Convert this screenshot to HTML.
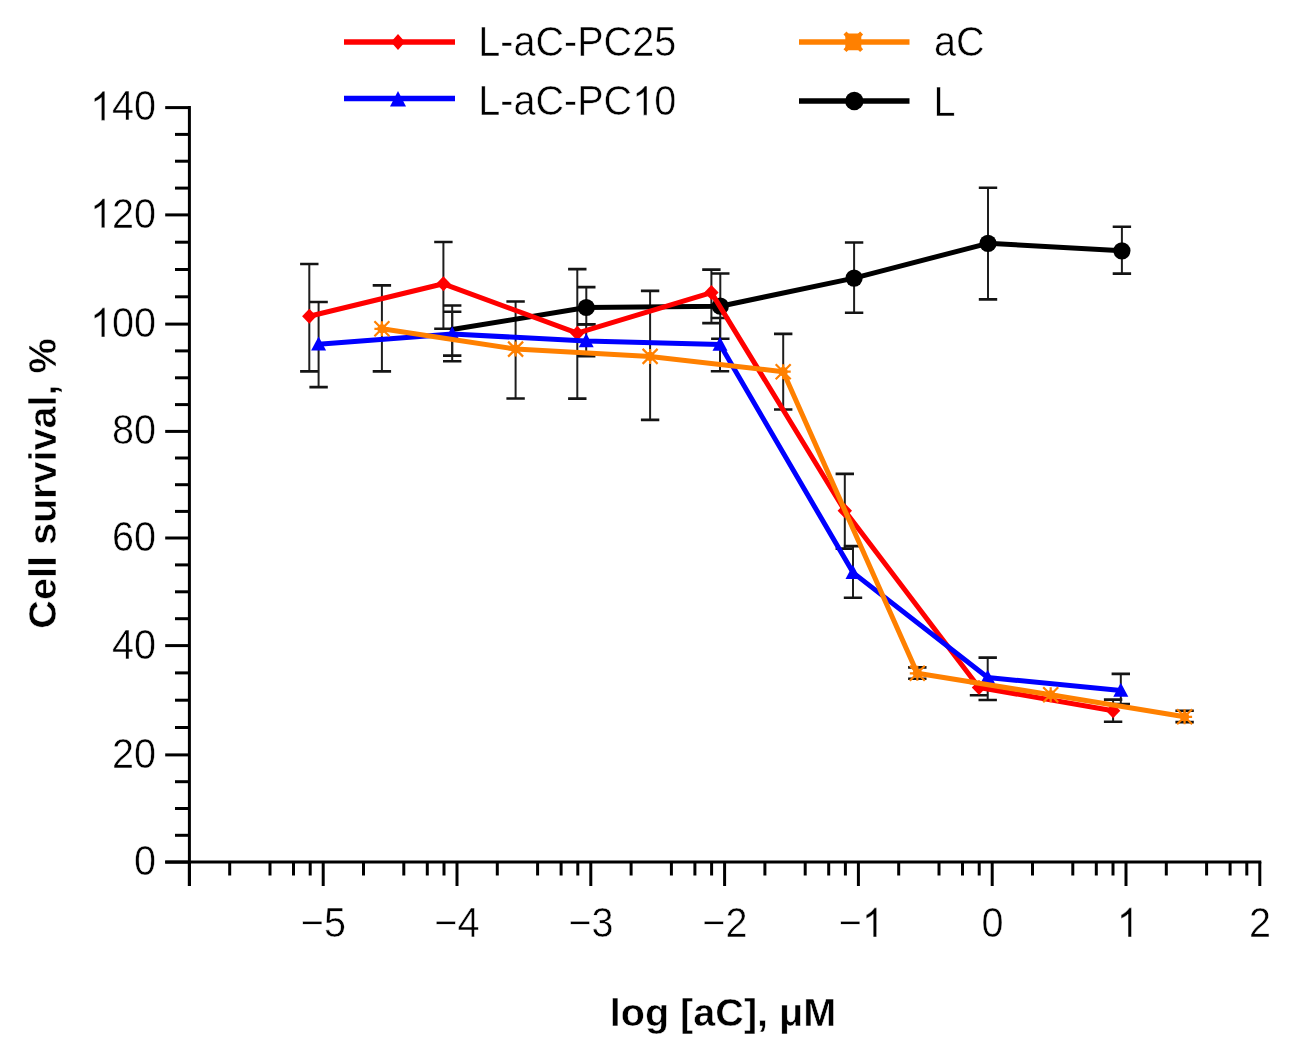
<!DOCTYPE html>
<html><head><meta charset="utf-8"><style>
html,body{margin:0;padding:0;background:#fff;}
svg{display:block;filter:blur(0.45px);}
</style></head><body>
<svg width="1306" height="1058" viewBox="0 0 1306 1058">
<rect width="1306" height="1058" fill="#fff"/>
<g stroke="#000" stroke-width="3" stroke-linecap="butt" fill="none">
<line x1="189.4" y1="106.1" x2="189.4" y2="886.0"/>
<line x1="165.20000000000002" y1="862.0" x2="1261.3000000000002" y2="862.0"/>
<line x1="165.20000000000002" y1="862.1" x2="189.4" y2="862.1"/>
<line x1="165.20000000000002" y1="754.9" x2="189.4" y2="754.9"/>
<line x1="165.20000000000002" y1="645.6" x2="189.4" y2="645.6"/>
<line x1="165.20000000000002" y1="538.0" x2="189.4" y2="538.0"/>
<line x1="165.20000000000002" y1="431.4" x2="189.4" y2="431.4"/>
<line x1="165.20000000000002" y1="324.1" x2="189.4" y2="324.1"/>
<line x1="165.20000000000002" y1="214.9" x2="189.4" y2="214.9"/>
<line x1="165.20000000000002" y1="107.6" x2="189.4" y2="107.6"/>
<line x1="175.0" y1="835.3" x2="189.4" y2="835.3"/>
<line x1="175.0" y1="808.5" x2="189.4" y2="808.5"/>
<line x1="175.0" y1="781.7" x2="189.4" y2="781.7"/>
<line x1="175.0" y1="727.5" x2="189.4" y2="727.5"/>
<line x1="175.0" y1="700.2" x2="189.4" y2="700.2"/>
<line x1="175.0" y1="672.9" x2="189.4" y2="672.9"/>
<line x1="175.0" y1="618.7" x2="189.4" y2="618.7"/>
<line x1="175.0" y1="591.8" x2="189.4" y2="591.8"/>
<line x1="175.0" y1="564.9" x2="189.4" y2="564.9"/>
<line x1="175.0" y1="511.4" x2="189.4" y2="511.4"/>
<line x1="175.0" y1="484.7" x2="189.4" y2="484.7"/>
<line x1="175.0" y1="458.0" x2="189.4" y2="458.0"/>
<line x1="175.0" y1="404.6" x2="189.4" y2="404.6"/>
<line x1="175.0" y1="377.8" x2="189.4" y2="377.8"/>
<line x1="175.0" y1="350.9" x2="189.4" y2="350.9"/>
<line x1="175.0" y1="296.8" x2="189.4" y2="296.8"/>
<line x1="175.0" y1="269.5" x2="189.4" y2="269.5"/>
<line x1="175.0" y1="242.2" x2="189.4" y2="242.2"/>
<line x1="175.0" y1="188.1" x2="189.4" y2="188.1"/>
<line x1="175.0" y1="161.2" x2="189.4" y2="161.2"/>
<line x1="175.0" y1="134.4" x2="189.4" y2="134.4"/>
<line x1="189.4" y1="862.0" x2="189.4" y2="886.0"/>
<line x1="229.7" y1="862.0" x2="229.7" y2="875.5"/>
<line x1="270.0" y1="862.0" x2="270.0" y2="875.5"/>
<line x1="293.5" y1="862.0" x2="293.5" y2="875.5"/>
<line x1="310.2" y1="862.0" x2="310.2" y2="875.5"/>
<line x1="323.2" y1="862.0" x2="323.2" y2="886.0"/>
<line x1="363.5" y1="862.0" x2="363.5" y2="875.5"/>
<line x1="403.8" y1="862.0" x2="403.8" y2="875.5"/>
<line x1="427.3" y1="862.0" x2="427.3" y2="875.5"/>
<line x1="444.0" y1="862.0" x2="444.0" y2="875.5"/>
<line x1="457.0" y1="862.0" x2="457.0" y2="886.0"/>
<line x1="497.3" y1="862.0" x2="497.3" y2="875.5"/>
<line x1="537.6" y1="862.0" x2="537.6" y2="875.5"/>
<line x1="561.1" y1="862.0" x2="561.1" y2="875.5"/>
<line x1="577.8" y1="862.0" x2="577.8" y2="875.5"/>
<line x1="590.8" y1="862.0" x2="590.8" y2="886.0"/>
<line x1="631.1" y1="862.0" x2="631.1" y2="875.5"/>
<line x1="671.4" y1="862.0" x2="671.4" y2="875.5"/>
<line x1="694.9" y1="862.0" x2="694.9" y2="875.5"/>
<line x1="711.6" y1="862.0" x2="711.6" y2="875.5"/>
<line x1="724.6" y1="862.0" x2="724.6" y2="886.0"/>
<line x1="764.9" y1="862.0" x2="764.9" y2="875.5"/>
<line x1="805.2" y1="862.0" x2="805.2" y2="875.5"/>
<line x1="828.7" y1="862.0" x2="828.7" y2="875.5"/>
<line x1="845.4" y1="862.0" x2="845.4" y2="875.5"/>
<line x1="858.4" y1="862.0" x2="858.4" y2="886.0"/>
<line x1="898.7" y1="862.0" x2="898.7" y2="875.5"/>
<line x1="939.0" y1="862.0" x2="939.0" y2="875.5"/>
<line x1="962.5" y1="862.0" x2="962.5" y2="875.5"/>
<line x1="979.2" y1="862.0" x2="979.2" y2="875.5"/>
<line x1="992.2" y1="862.0" x2="992.2" y2="886.0"/>
<line x1="1032.5" y1="862.0" x2="1032.5" y2="875.5"/>
<line x1="1072.8" y1="862.0" x2="1072.8" y2="875.5"/>
<line x1="1096.3" y1="862.0" x2="1096.3" y2="875.5"/>
<line x1="1113.0" y1="862.0" x2="1113.0" y2="875.5"/>
<line x1="1126.0" y1="862.0" x2="1126.0" y2="886.0"/>
<line x1="1166.3" y1="862.0" x2="1166.3" y2="875.5"/>
<line x1="1206.6" y1="862.0" x2="1206.6" y2="875.5"/>
<line x1="1230.1" y1="862.0" x2="1230.1" y2="875.5"/>
<line x1="1246.8" y1="862.0" x2="1246.8" y2="875.5"/>
<line x1="1259.8" y1="862.0" x2="1259.8" y2="886.0"/>
</g>
<text transform="translate(134.12,875.0) scale(1.0,1.07)" font-family="Liberation Sans, sans-serif" stroke="#fff" stroke-width="0.5" font-size="39.6">0</text>
<text transform="translate(112.10,767.7) scale(1.0,1.07)" font-family="Liberation Sans, sans-serif" stroke="#fff" stroke-width="0.5" font-size="39.6">20</text>
<text transform="translate(112.10,658.5) scale(1.0,1.07)" font-family="Liberation Sans, sans-serif" stroke="#fff" stroke-width="0.5" font-size="39.6">40</text>
<text transform="translate(112.10,550.9) scale(1.0,1.07)" font-family="Liberation Sans, sans-serif" stroke="#fff" stroke-width="0.5" font-size="39.6">60</text>
<text transform="translate(112.10,444.2) scale(1.0,1.07)" font-family="Liberation Sans, sans-serif" stroke="#fff" stroke-width="0.5" font-size="39.6">80</text>
<path transform="translate(90.08,337.0) scale(0.01934,-0.01989)" d="M763 0H583V1147C540 1106 483 1065 413 1024C342 983 279 952 223 931V1105C324 1152 412 1209 487 1276C562 1343 615 1408 646 1466H763Z" fill="#000" stroke="#fff" stroke-width="0.5" vector-effect="non-scaling-stroke"/><text transform="translate(112.10,337.0) scale(1.0,1.07)" font-family="Liberation Sans, sans-serif" stroke="#fff" stroke-width="0.5" font-size="39.6">00</text>
<path transform="translate(90.08,227.8) scale(0.01934,-0.01989)" d="M763 0H583V1147C540 1106 483 1065 413 1024C342 983 279 952 223 931V1105C324 1152 412 1209 487 1276C562 1343 615 1408 646 1466H763Z" fill="#000" stroke="#fff" stroke-width="0.5" vector-effect="non-scaling-stroke"/><text transform="translate(112.10,227.8) scale(1.0,1.07)" font-family="Liberation Sans, sans-serif" stroke="#fff" stroke-width="0.5" font-size="39.6">20</text>
<path transform="translate(90.08,120.4) scale(0.01934,-0.01989)" d="M763 0H583V1147C540 1106 483 1065 413 1024C342 983 279 952 223 931V1105C324 1152 412 1209 487 1276C562 1343 615 1408 646 1466H763Z" fill="#000" stroke="#fff" stroke-width="0.5" vector-effect="non-scaling-stroke"/><text transform="translate(112.10,120.4) scale(1.0,1.07)" font-family="Liberation Sans, sans-serif" stroke="#fff" stroke-width="0.5" font-size="39.6">40</text>
<text transform="translate(300.78,937.0) scale(1.0,1.07)" font-family="Liberation Sans, sans-serif" stroke="#fff" stroke-width="0.5" font-size="39.6">−5</text>
<text transform="translate(434.33,937.0) scale(1.0,1.07)" font-family="Liberation Sans, sans-serif" stroke="#fff" stroke-width="0.5" font-size="39.6">−4</text>
<text transform="translate(568.42,937.0) scale(1.0,1.07)" font-family="Liberation Sans, sans-serif" stroke="#fff" stroke-width="0.5" font-size="39.6">−3</text>
<text transform="translate(702.34,937.0) scale(1.0,1.07)" font-family="Liberation Sans, sans-serif" stroke="#fff" stroke-width="0.5" font-size="39.6">−2</text>
<text transform="translate(838.78,937.0) scale(1.0,1.07)" font-family="Liberation Sans, sans-serif" stroke="#fff" stroke-width="0.5" font-size="39.6">−</text><path transform="translate(861.91,937.0) scale(0.01934,-0.01989)" d="M763 0H583V1147C540 1106 483 1065 413 1024C342 983 279 952 223 931V1105C324 1152 412 1209 487 1276C562 1343 615 1408 646 1466H763Z" fill="#000" stroke="#fff" stroke-width="0.5" vector-effect="non-scaling-stroke"/>
<text transform="translate(981.49,937.0) scale(1.0,1.07)" font-family="Liberation Sans, sans-serif" stroke="#fff" stroke-width="0.5" font-size="39.6">0</text>
<path transform="translate(1116.77,937.0) scale(0.01934,-0.01989)" d="M763 0H583V1147C540 1106 483 1065 413 1024C342 983 279 952 223 931V1105C324 1152 412 1209 487 1276C562 1343 615 1408 646 1466H763Z" fill="#000" stroke="#fff" stroke-width="0.5" vector-effect="non-scaling-stroke"/>
<text transform="translate(1249.09,937.0) scale(1.0,1.07)" font-family="Liberation Sans, sans-serif" stroke="#fff" stroke-width="0.5" font-size="39.6">2</text>
<text transform="translate(723.0,1025.5) scale(1.0,1.0)" font-family="Liberation Sans, sans-serif" stroke="#fff" stroke-width="0.5" font-size="39.6" font-weight="bold" text-anchor="middle">log [aC], μM</text>
<text transform="translate(56.4,483.5) rotate(-90)" x="0" y="0" font-family="Liberation Sans, sans-serif" stroke="#fff" stroke-width="0.5" font-size="39.6" font-weight="bold" text-anchor="middle">Cell survival, %</text>
<g stroke="#141414" fill="none">
<path stroke-width="2.0" stroke="#1e1e1e" d="M309.3 264.0V371.4"/><path stroke-width="2.6" d="M300.1 264.0H318.5M300.1 371.4H318.5"/>
<path stroke-width="2.0" stroke="#1e1e1e" d="M443.4 242.0V328.7"/><path stroke-width="2.6" d="M434.2 242.0H452.6M434.2 328.7H452.6"/>
<path stroke-width="2.0" stroke="#1e1e1e" d="M577.3 269.1V398.6"/><path stroke-width="2.6" d="M568.1 269.1H586.5M568.1 398.6H586.5"/>
<path stroke-width="2.0" stroke="#1e1e1e" d="M711.4 269.6V323.1"/><path stroke-width="2.6" d="M702.2 269.6H720.6M702.2 323.1H720.6"/>
<path stroke-width="2.0" stroke="#1e1e1e" d="M844.8 473.9V548.6"/><path stroke-width="2.6" d="M835.6 473.9H854.0M835.6 548.6H854.0"/>
<path stroke-width="2.0" stroke="#1e1e1e" d="M979.0 683.0V695.2"/><path stroke-width="2.6" d="M969.8 683.0H988.2M969.8 695.2H988.2"/>
<path stroke-width="2.0" stroke="#1e1e1e" d="M1113.1 699.6V721.7"/><path stroke-width="2.6" d="M1103.9 699.6H1122.3M1103.9 721.7H1122.3"/>
<path stroke-width="2.0" stroke="#1e1e1e" d="M318.6 302.0V387.1"/><path stroke-width="2.6" d="M309.4 302.0H327.8M309.4 387.1H327.8"/>
<path stroke-width="2.0" stroke="#1e1e1e" d="M452.2 311.7V361.3"/><path stroke-width="2.6" d="M443.0 311.7H461.4M443.0 361.3H461.4"/>
<path stroke-width="2.0" stroke="#1e1e1e" d="M586.2 324.4V356.2"/><path stroke-width="2.6" d="M577.0 324.4H595.4M577.0 356.2H595.4"/>
<path stroke-width="2.0" stroke="#1e1e1e" d="M720.0 318.0V371.2"/><path stroke-width="2.6" d="M710.8 318.0H729.2M710.8 371.2H729.2"/>
<path stroke-width="2.0" stroke="#1e1e1e" d="M853.0 546.1V597.7"/><path stroke-width="2.6" d="M843.8 546.1H862.2M843.8 597.7H862.2"/>
<path stroke-width="2.0" stroke="#1e1e1e" d="M987.7 657.6V700.0"/><path stroke-width="2.6" d="M978.5 657.6H996.9M978.5 700.0H996.9"/>
<path stroke-width="2.0" stroke="#1e1e1e" d="M1120.8 673.9V704.0"/><path stroke-width="2.6" d="M1111.6 673.9H1130.0M1111.6 704.0H1130.0"/>
<path stroke-width="2.0" stroke="#1e1e1e" d="M452.2 305.5V355.6"/><path stroke-width="2.6" d="M443.0 305.5H461.4M443.0 355.6H461.4"/>
<path stroke-width="2.0" stroke="#1e1e1e" d="M586.3 287.1V324.3"/><path stroke-width="2.6" d="M577.1 287.1H595.5M577.1 324.3H595.5"/>
<path stroke-width="2.0" stroke="#1e1e1e" d="M720.3 273.5V338.7"/><path stroke-width="2.6" d="M711.1 273.5H729.5M711.1 338.7H729.5"/>
<path stroke-width="2.0" stroke="#1e1e1e" d="M854.1 242.5V312.7"/><path stroke-width="2.6" d="M844.9 242.5H863.3M844.9 312.7H863.3"/>
<path stroke-width="2.0" stroke="#1e1e1e" d="M988.0 187.7V299.4"/><path stroke-width="2.6" d="M978.8 187.7H997.2M978.8 299.4H997.2"/>
<path stroke-width="2.0" stroke="#1e1e1e" d="M1121.9 226.8V273.6"/><path stroke-width="2.6" d="M1112.7 226.8H1131.1M1112.7 273.6H1131.1"/>
<path stroke-width="2.0" stroke="#1e1e1e" d="M381.9 285.4V371.4"/><path stroke-width="2.6" d="M372.7 285.4H391.1M372.7 371.4H391.1"/>
<path stroke-width="2.0" stroke="#1e1e1e" d="M515.6 301.5V398.5"/><path stroke-width="2.6" d="M506.4 301.5H524.8M506.4 398.5H524.8"/>
<path stroke-width="2.0" stroke="#1e1e1e" d="M650.1 290.9V419.9"/><path stroke-width="2.6" d="M640.9 290.9H659.3M640.9 419.9H659.3"/>
<path stroke-width="2.0" stroke="#1e1e1e" d="M783.2 333.9V409.5"/><path stroke-width="2.6" d="M774.0 333.9H792.4M774.0 409.5H792.4"/>
<path stroke-width="2.0" stroke="#1e1e1e" d="M917.3 667.4V678.8"/><path stroke-width="2.6" d="M908.1 667.4H926.5M908.1 678.8H926.5"/>
<path stroke-width="2.0" stroke="#1e1e1e" d="M1184.6 710.7V722.1"/><path stroke-width="2.6" d="M1175.4 710.7H1193.8M1175.4 722.1H1193.8"/>
</g>
<polyline points="452.2,329.5 586.3,307.5 720.3,306.2 854.1,278.1 988.0,243.3 1121.9,250.8" fill="none" stroke="#000000" stroke-width="5" stroke-linejoin="round" stroke-linecap="round"/>
<circle cx="586.3" cy="307.5" r="8.6" fill="#000000"/>
<circle cx="720.3" cy="306.2" r="8.6" fill="#000000"/>
<circle cx="854.1" cy="278.1" r="8.6" fill="#000000"/>
<circle cx="988.0" cy="243.3" r="8.6" fill="#000000"/>
<circle cx="1121.9" cy="250.8" r="8.6" fill="#000000"/>
<polyline points="309.3,316.3 443.4,283.8 577.3,333.2 711.4,292.6 844.8,510.7 979.0,687.5 1113.1,710.7" fill="none" stroke="#ff0000" stroke-width="5" stroke-linejoin="round" stroke-linecap="round"/>
<path d="M309.3 308.8L316.5 316.3L309.3 323.8L302.1 316.3Z" fill="#ff0000"/>
<path d="M443.4 276.3L450.6 283.8L443.4 291.3L436.2 283.8Z" fill="#ff0000"/>
<path d="M577.3 325.7L584.5 333.2L577.3 340.7L570.1 333.2Z" fill="#ff0000"/>
<path d="M711.4 285.1L718.6 292.6L711.4 300.1L704.2 292.6Z" fill="#ff0000"/>
<path d="M844.8 503.2L852.0 510.7L844.8 518.2L837.6 510.7Z" fill="#ff0000"/>
<path d="M979.0 680.0L986.2 687.5L979.0 695.0L971.8 687.5Z" fill="#ff0000"/>
<path d="M1113.1 703.2L1120.3 710.7L1113.1 718.2L1105.9 710.7Z" fill="#ff0000"/>
<polyline points="318.6,344.3 452.2,334.0 586.2,341.0 720.0,344.5 853.0,572.6 987.7,677.5 1120.8,690.5" fill="none" stroke="#0000ff" stroke-width="5" stroke-linejoin="round" stroke-linecap="round"/>
<path d="M318.6 336.6L326.1 350.6L311.1 350.6Z" fill="#0000ff"/>
<path d="M452.2 326.3L459.7 340.3L444.7 340.3Z" fill="#0000ff"/>
<path d="M586.2 333.3L593.7 347.3L578.7 347.3Z" fill="#0000ff"/>
<path d="M720.0 336.8L727.5 350.8L712.5 350.8Z" fill="#0000ff"/>
<path d="M853.0 564.9L860.5 578.9L845.5 578.9Z" fill="#0000ff"/>
<path d="M987.7 669.8L995.2 683.8L980.2 683.8Z" fill="#0000ff"/>
<path d="M1120.8 682.8L1128.3 696.8L1113.3 696.8Z" fill="#0000ff"/>
<polyline points="381.9,328.8 515.6,349.1 650.1,356.4 783.2,371.7 917.3,673.3 1050.7,694.8 1184.6,716.8" fill="none" stroke="#ff8000" stroke-width="5" stroke-linejoin="round" stroke-linecap="round"/>
<path d="M374.4 328.8H389.4M381.9 321.3V336.3M374.4 321.3L389.4 336.3M389.4 321.3L374.4 336.3" stroke="#ff8000" stroke-width="2.2" fill="none"/><circle cx="381.9" cy="328.8" r="4.6" fill="#ff8000"/>
<path d="M508.1 349.1H523.1M515.6 341.6V356.6M508.1 341.6L523.1 356.6M523.1 341.6L508.1 356.6" stroke="#ff8000" stroke-width="2.2" fill="none"/><circle cx="515.6" cy="349.1" r="4.6" fill="#ff8000"/>
<path d="M642.6 356.4H657.6M650.1 348.9V363.9M642.6 348.9L657.6 363.9M657.6 348.9L642.6 363.9" stroke="#ff8000" stroke-width="2.2" fill="none"/><circle cx="650.1" cy="356.4" r="4.6" fill="#ff8000"/>
<path d="M775.7 371.7H790.7M783.2 364.2V379.2M775.7 364.2L790.7 379.2M790.7 364.2L775.7 379.2" stroke="#ff8000" stroke-width="2.2" fill="none"/><circle cx="783.2" cy="371.7" r="4.6" fill="#ff8000"/>
<path d="M909.8 673.3H924.8M917.3 665.8V680.8M909.8 665.8L924.8 680.8M924.8 665.8L909.8 680.8" stroke="#ff8000" stroke-width="2.2" fill="none"/><circle cx="917.3" cy="673.3" r="4.6" fill="#ff8000"/>
<path d="M1043.2 694.8H1058.2M1050.7 687.3V702.3M1043.2 687.3L1058.2 702.3M1058.2 687.3L1043.2 702.3" stroke="#ff8000" stroke-width="2.2" fill="none"/><circle cx="1050.7" cy="694.8" r="4.6" fill="#ff8000"/>
<path d="M1177.1 716.8H1192.1M1184.6 709.3V724.3M1177.1 709.3L1192.1 724.3M1192.1 709.3L1177.1 724.3" stroke="#ff8000" stroke-width="2.2" fill="none"/><circle cx="1184.6" cy="716.8" r="4.6" fill="#ff8000"/>
<line x1="344" y1="42" x2="455" y2="42" stroke="#ff0000" stroke-width="5.5"/>
<path d="M398.0 34.0L405.0 42.0L398.0 50.0L391.0 42.0Z" fill="#ff0000"/>
<line x1="344" y1="98.5" x2="455" y2="98.5" stroke="#0000ff" stroke-width="5.5"/>
<path d="M398.0 91.0L406.0 106.5L390.0 106.5Z" fill="#0000ff"/>
<line x1="799" y1="42" x2="909.5" y2="42" stroke="#ff8000" stroke-width="5.5"/>
<rect x="845.3" y="33.6" width="16" height="16.6" rx="2" fill="#ff8000"/><path d="M845 33L861.6 50.6M861.6 33L845 50.6" stroke="#ff8000" stroke-width="4.2"/>
<line x1="799" y1="101" x2="909.5" y2="101" stroke="#000000" stroke-width="5.5"/>
<circle cx="854.3" cy="101.0" r="9.2" fill="#000000"/>
<text transform="translate(478.2,56.2) scale(1.0,1.07)" font-family="Liberation Sans, sans-serif" stroke="#fff" stroke-width="0.5" font-size="39.6" text-anchor="start">L-aC-PC25</text>
<text transform="translate(478.20,115.2) scale(1.0,1.07)" font-family="Liberation Sans, sans-serif" stroke="#fff" stroke-width="0.5" font-size="39.6">L-aC-PC</text><path transform="translate(632.23,115.2) scale(0.01934,-0.01989)" d="M763 0H583V1147C540 1106 483 1065 413 1024C342 983 279 952 223 931V1105C324 1152 412 1209 487 1276C562 1343 615 1408 646 1466H763Z" fill="#000" stroke="#fff" stroke-width="0.5" vector-effect="non-scaling-stroke"/><text transform="translate(654.25,115.2) scale(1.0,1.07)" font-family="Liberation Sans, sans-serif" stroke="#fff" stroke-width="0.5" font-size="39.6">0</text>
<text transform="translate(934.0,56.2) scale(1.0,1.07)" font-family="Liberation Sans, sans-serif" stroke="#fff" stroke-width="0.5" font-size="39.6" text-anchor="start">aC</text>
<text transform="translate(933.5,115.8) scale(1.0,1.07)" font-family="Liberation Sans, sans-serif" stroke="#fff" stroke-width="0.5" font-size="39.6" text-anchor="start">L</text>
</svg></body></html>
